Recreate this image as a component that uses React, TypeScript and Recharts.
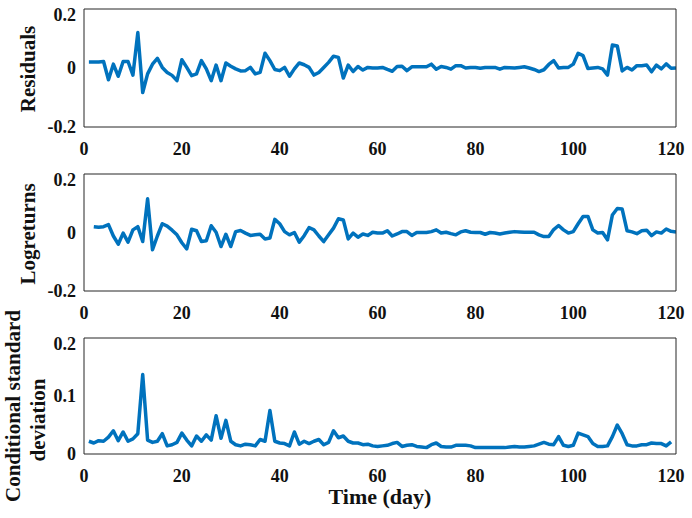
import { LineChart, Line, XAxis, YAxis } from "recharts";

// residuals, day 1..121
const residuals = [
  0.02, 0.02, 0.02, 0.022, -0.04, 0.013, -0.028, 0.022, 0.022, -0.024,
  0.12, -0.083, -0.02, 0.013, 0.033, 0.002, -0.015, -0.025, -0.043, 0.028,
  0.002, -0.026, -0.02, 0.025, -0.003, -0.043, 0.01, -0.043, 0.017, 0.006,
  -0.003, -0.01, -0.009, 0.002, -0.02, -0.015, 0.05, 0.025, -0.005, -0.009,
  0.002, -0.028, -0.003, 0.017, 0.011, 0.002, -0.024, -0.015, 0.002, 0.019,
  0.04, 0.036, -0.034, 0.01, -0.012, 0.005, -0.007, 0.002, 0.0, 0.0,
  0.002, -0.005, -0.011, 0.005, 0.006, -0.009, 0.004, 0.004, 0.004, 0.004,
  0.013, -0.004, 0.005, 0.002, -0.004, 0.008, 0.008, 0.0, 0.002, 0.002,
  -0.001, 0.002, 0.002, 0.002, -0.004, 0.002, 0.001, 0.0, 0.002, 0.004,
  0.0, -0.005, -0.012, -0.006, 0.012, 0.025, 0.0, 0.002, 0.002, 0.013,
  0.05, 0.042, -0.002, 0.0, 0.002, -0.003, -0.024, 0.078, 0.075, -0.01,
  0.002, -0.007, 0.008, 0.008, 0.01, -0.013, 0.01, -0.003, 0.014, -0.001,
  0.0,
];

// log returns, day 2..121
const logReturns = [
  0.02, 0.018, 0.02, 0.027, -0.012, -0.04, -0.002, -0.033, 0.009, 0.02,
  -0.031, 0.115, -0.059, -0.012, 0.03, 0.022, 0.008, -0.008, -0.035, -0.056,
  0.011, 0.006, -0.031, -0.028, 0.023, 0.001, -0.048, -0.006, -0.048, 0.003,
  0.007, -0.002, -0.01, -0.008, -0.006, -0.022, -0.019, 0.045, 0.03, 0.003,
  -0.008, 0.0, -0.033, -0.011, 0.017, 0.009, -0.012, -0.031, -0.008, 0.015,
  0.047, 0.043, -0.022, -0.002, -0.016, -0.005, -0.01, 0.001, -0.002, -0.002,
  0.006, -0.012, -0.005, 0.003, 0.003, -0.01, 0.0, 0.0, 0.0, 0.003,
  0.009, -0.002, 0.001, -0.004, -0.008, 0.002, 0.006, 0.001, 0.0, 0.0,
  -0.006, 0.0, -0.002, -0.005, -0.002, 0.001, 0.003, 0.002, 0.001, 0.001,
  0.001, -0.008, -0.014, -0.014, 0.01, 0.024, 0.009, -0.002, 0.003, 0.03,
  0.055, 0.055, 0.009, -0.002, 0.0, -0.025, 0.06, 0.082, 0.08, 0.006,
  0.002, -0.004, 0.006, 0.008, -0.011, 0.002, -0.002, 0.012, 0.004, 0.002,
];

// conditional standard deviation, day 1..120
const condStd = [
  0.022, 0.019, 0.023, 0.022, 0.029, 0.04, 0.023, 0.038, 0.022, 0.026,
  0.035, 0.137, 0.024, 0.02, 0.022, 0.035, 0.014, 0.016, 0.02, 0.036,
  0.024, 0.014, 0.031, 0.022, 0.033, 0.024, 0.066, 0.027, 0.058, 0.022,
  0.016, 0.014, 0.017, 0.016, 0.014, 0.025, 0.022, 0.075, 0.022, 0.019,
  0.018, 0.014, 0.038, 0.017, 0.022, 0.018, 0.022, 0.025, 0.016, 0.02,
  0.04, 0.028, 0.031, 0.022, 0.019, 0.019, 0.016, 0.017, 0.014, 0.013,
  0.014, 0.015, 0.018, 0.02, 0.013, 0.015, 0.016, 0.013, 0.012, 0.011,
  0.016, 0.019, 0.013, 0.012, 0.012, 0.015, 0.015, 0.015, 0.014, 0.011,
  0.011, 0.011, 0.011, 0.011, 0.011, 0.011, 0.012, 0.013, 0.012, 0.012,
  0.013, 0.014, 0.017, 0.02, 0.017, 0.016, 0.03, 0.015, 0.013, 0.015,
  0.036, 0.033, 0.03, 0.018, 0.013, 0.013, 0.014, 0.03, 0.05, 0.035,
  0.016, 0.014, 0.014, 0.016, 0.016, 0.019, 0.018, 0.018, 0.014, 0.021,
];

const dayTicks = [0, 20, 40, 60, 80, 100, 120];
const returnTicks = [-0.2, 0, 0.2];
const stdTicks = [0, 0.1, 0.2];

const font = '"Liberation Serif", "Times New Roman", serif';
const axisColor = "#262626";
const lineColor = "#0072BD";

const toRows = (values: number[], firstDay: number) =>
  values.map((v, i) => ({ day: firstDay + i, value: v }));

type PanelProps = {
  top: number;
  plotHeight: number;
  values: number[];
  firstDay: number;
  yDomain: [number, number];
  yTicks: number[];
};

function Panel({ top, plotHeight, values, firstDay, yDomain, yTicks }: PanelProps) {
  const data = toRows(values, firstDay);
  const tickStyle = { fontFamily: font, fontSize: 18, fontWeight: 700, fill: "#111" };
  const xCommon = {
    dataKey: "day",
    type: "number" as const,
    domain: [0, 121],
    allowDataOverflow: true,
    ticks: dayTicks,
  };
  const yCommon = {
    type: "number" as const,
    domain: yDomain,
    allowDataOverflow: true,
    ticks: yTicks,
  };
  return (
    <div style={{ position: "absolute", left: 0, top: top - 5 }}>
      <LineChart
        width={692}
        height={plotHeight + 45}
        data={data}
        margin={{ top: 5, right: 16, bottom: 0, left: 0 }}
      >
        <XAxis
          {...xCommon}
          xAxisId="labels"
          height={40}
          axisLine={false}
          tickLine={false}
          tickSize={0}
          tickMargin={15}
          tick={tickStyle}
        />
        <XAxis {...xCommon} xAxisId="bottom" mirror tick={false} tickSize={5} stroke={axisColor} />
        <XAxis {...xCommon} xAxisId="top" orientation="top" mirror tick={false} tickSize={5} stroke={axisColor} />
        <YAxis
          {...yCommon}
          yAxisId="labels"
          width={84}
          axisLine={false}
          tickLine={false}
          tickSize={0}
          tickMargin={8}
          tick={tickStyle}
          tickFormatter={(v: number) => (v === 0 ? "0" : String(v))}
        />
        <YAxis {...yCommon} yAxisId="left" mirror tick={false} tickSize={5} stroke={axisColor} />
        <YAxis {...yCommon} yAxisId="right" orientation="right" mirror tick={false} tickSize={5} stroke={axisColor} />
        <Line
          xAxisId="bottom"
          yAxisId="left"
          type="linear"
          dataKey="value"
          stroke={lineColor}
          strokeWidth={3.5}
          strokeLinejoin="round"
          dot={false}
          isAnimationActive={false}
        />
      </LineChart>
    </div>
  );
}

function RotLabel({ text, cx, cy }: { text: string; cx: number; cy: number }) {
  return (
    <div
      style={{
        position: "absolute",
        left: cx,
        top: cy,
        transform: "translate(-50%, -50%) rotate(-90deg)",
        whiteSpace: "nowrap",
        fontFamily: font,
        fontWeight: 700,
        fontSize: 21,
        lineHeight: 1,
        color: "#111",
      }}
    >
      {text}
    </div>
  );
}

export default function App() {
  return (
    <div
      style={{
        position: "absolute",
        left: 0,
        top: 0,
        width: 692,
        height: 518,
        background: "#fff",
        overflow: "hidden",
      }}
    >
      <Panel top={9} plotHeight={118} values={residuals} firstDay={1} yDomain={[-0.2, 0.2]} yTicks={returnTicks} />
      <Panel top={174} plotHeight={117} values={logReturns} firstDay={2} yDomain={[-0.2, 0.2]} yTicks={returnTicks} />
      <Panel top={338} plotHeight={116} values={condStd} firstDay={1} yDomain={[0, 0.2]} yTicks={stdTicks} />

      <RotLabel text="Residuals" cx={28} cy={69} />
      <RotLabel text="Logreturns" cx={28} cy={234} />
      <RotLabel text="Conditional standard" cx={13} cy={406} />
      <RotLabel text="deviation" cx={38} cy={420} />

      <div
        style={{
          position: "absolute",
          left: 380,
          top: 497,
          transform: "translate(-50%, -50%)",
          whiteSpace: "nowrap",
          fontFamily: font,
          fontWeight: 700,
          fontSize: 22,
          lineHeight: 1,
          color: "#111",
        }}
      >
        Time (day)
      </div>
    </div>
  );
}
